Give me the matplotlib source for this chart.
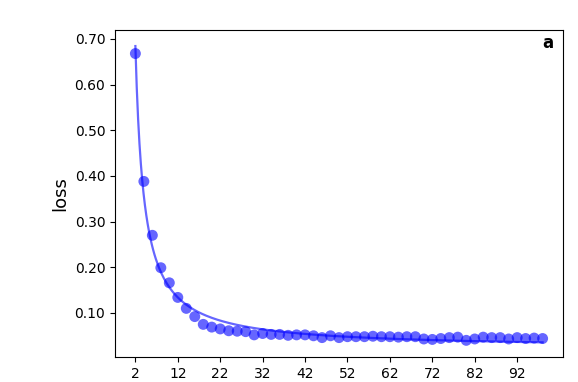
import numpy as np
import matplotlib
matplotlib.use("Agg")
import matplotlib.pyplot as plt

# epochs and loss
epochs = list(range(2, 100, 2))
loss = [0.668, 0.388, 0.270, 0.199, 0.166, 0.134, 0.110, 0.092, 0.075, 0.069,
        0.065, 0.061, 0.060, 0.059, 0.052, 0.055, 0.053, 0.053, 0.051, 0.052,
        0.052, 0.050, 0.046, 0.050, 0.046, 0.048, 0.048, 0.048, 0.049, 0.048,
        0.048, 0.047, 0.048, 0.048, 0.043, 0.042, 0.044, 0.046, 0.047, 0.040,
        0.043, 0.047, 0.046, 0.046, 0.043, 0.046, 0.044, 0.045, 0.044]
xticks = [2, 12, 22, 32, 42, 52, 62, 72, 82, 92]
yticks = [0.1, 0.2, 0.3, 0.4, 0.5, 0.6, 0.7]

x = np.array(epochs, dtype=float)
y = np.array(loss)

# fit y = a * x^-b + c to the points (grid over b, least squares for a, c)
best = None
for b in np.linspace(0.3, 2.0, 341):
    A = np.column_stack([x ** -b, np.ones_like(x)])
    coef, res, _, _ = np.linalg.lstsq(A, y, rcond=None)
    r = np.sum((A @ coef - y) ** 2)
    if best is None or r < best[0]:
        best = (r, b, coef)
_, b, (a, c) = best
xs = np.linspace(x.min(), x.max(), 300)
ys = a * xs ** -b + c

fig = plt.figure(figsize=(5.78, 3.82), dpi=100)
ax = fig.add_axes([0.199, 0.066, 0.775, 0.856])
ax.plot(xs, ys, color="blue", alpha=0.6, lw=1.6)
ax.scatter(x, y, s=62, color="blue", alpha=0.6, edgecolors="none")

ax.set_xticks(xticks)
ax.set_yticks(yticks)
ax.set_yticklabels(["%.2f" % v for v in yticks])
ax.tick_params(labelsize=10)
ax.set_ylabel("loss", fontsize=13)
ax.set_xlim(-2.8, 102.8)
ax.set_ylim(0.004, 0.72)
ax.text(0.978, 0.988, "a", transform=ax.transAxes, ha="right", va="top",
        fontsize=12, fontweight="bold")

fig.savefig("out.png", dpi=100)
